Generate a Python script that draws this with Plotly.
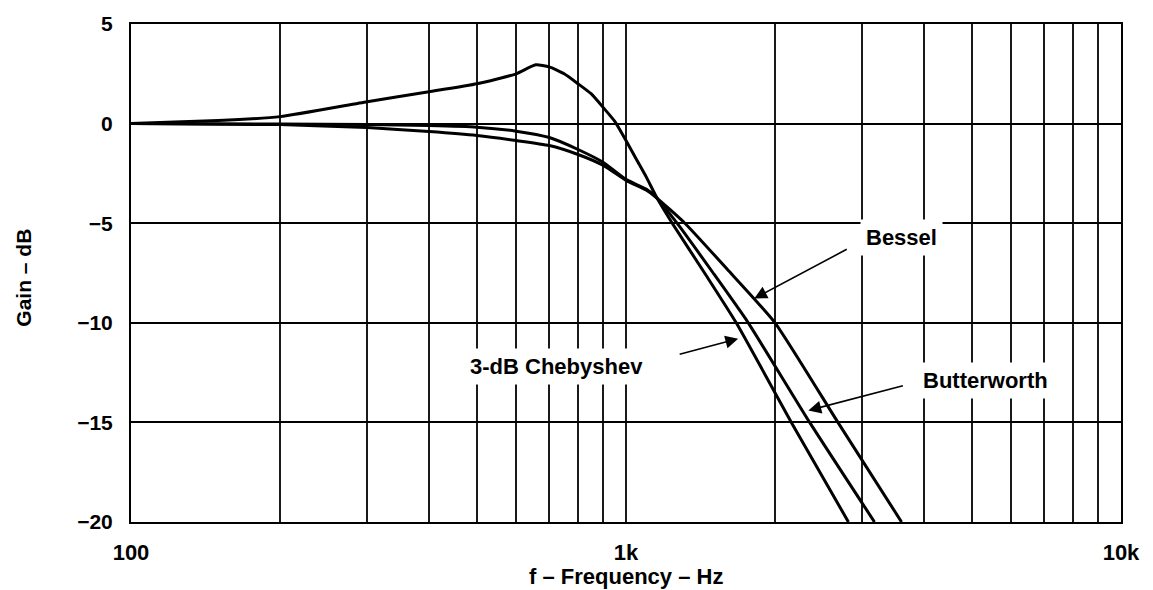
import numpy as np
import plotly.graph_objects as go

# ---- data ----
cheb_f = [100, 150, 200, 300, 400, 500, 600, 657, 700, 750, 800, 850, 900, 950, 1000,
          1050, 1100, 1150, 1240, 1450, 1670, 2158, 2814]
cheb_db = [0, 0.15, 0.35, 1.1, 1.6, 2.0, 2.5, 2.95, 2.85, 2.5, 2.0, 1.5, 0.8, 0.1, -0.85,
           -1.8, -2.7, -3.65, -5, -7.6, -10, -15, -20]

butter_f = [100, 200, 300, 400, 500, 600, 700, 800, 900, 1000, 1100, 1150, 1268, 1500,
            1766, 2350, 3177]
butter_db = [0, -0.02, -0.05, -0.1, -0.18, -0.38, -0.7, -1.3, -1.95, -2.8, -3.3, -3.7,
             -5, -7.5, -10, -15, -20]

bessel_f = [100, 200, 300, 400, 500, 600, 700, 800, 900, 1000, 1100, 1150, 1315, 1600,
            2000, 2680, 3603]
bessel_db = [0, -0.05, -0.2, -0.4, -0.6, -0.85, -1.1, -1.55, -2.1, -2.85, -3.35, -3.7,
             -5, -7.3, -10, -15, -20]

x_grid = [100, 200, 300, 400, 500, 600, 700, 800, 900,
          1000, 2000, 3000, 4000, 5000, 6000, 7000, 8000, 9000, 10000]
x_labels = ["100", "", "", "", "", "", "", "", "",
            "1k", "", "", "", "", "", "", "", "", "10k"]
y_ticks = [5, 0, -5, -10, -15, -20]
y_labels = ["5", "0", "\u22125", "\u221210", "\u221215", "\u221220"]

FONT = "Arial, Liberation Sans, sans-serif"

fig = go.Figure()
for f, db in [(cheb_f, cheb_db), (butter_f, butter_db), (bessel_f, bessel_db)]:
    fig.add_trace(go.Scatter(x=f, y=db, mode="lines",
                             line=dict(color="black", width=3, shape="spline", smoothing=0.5),
                             showlegend=False, hoverinfo="skip"))

fig.update_xaxes(type="log", range=[2, 4], tickvals=x_grid, ticktext=x_labels,
                 showgrid=True, gridcolor="#1a1a1a", gridwidth=1.5,
                 showline=True, linecolor="black", linewidth=2, mirror=True,
                 ticks="", ticklabelstandoff=10,
                 tickfont=dict(family=FONT, size=22, color="black", weight="bold"),
                 zeroline=False)
fig.update_yaxes(range=[-20, 5], tickvals=y_ticks, ticktext=y_labels,
                 showgrid=True, gridcolor="black", gridwidth=1.5,
                 showline=True, linecolor="black", linewidth=2, mirror=True,
                 ticks="", ticklabelstandoff=12,
                 tickfont=dict(family=FONT, size=21, color="black", weight="bold"),
                 zeroline=False)

lab_font = dict(family=FONT, size=22, color="black", weight="bold")
# text labels with white boxes
fig.add_annotation(x=np.log10(3603), y=-5.73, text="<b>Bessel</b>", showarrow=False,
                   bgcolor="white", borderpad=5, font=lab_font)
fig.add_annotation(x=np.log10(5330), y=-12.9, text="<b>Butterworth</b>", showarrow=False,
                   bgcolor="white", borderpad=5, font=lab_font)
fig.add_annotation(x=np.log10(725), y=-12.2, text="<b>3-dB Chebyshev</b>", showarrow=False,
                   bgcolor="white", borderpad=5, font=lab_font)
# arrows
arrow = dict(showarrow=True, arrowhead=2, arrowsize=1.6, arrowwidth=1.6,
             arrowcolor="black", text="")
fig.add_annotation(x=np.log10(1816), y=-8.78, ax=94, ay=-50, **arrow)
fig.add_annotation(x=np.log10(2336), y=-14.4, ax=96, ay=-25, **arrow)
fig.add_annotation(x=np.log10(1685), y=-10.8, ax=-60, ay=16, **arrow)

# axis titles
fig.add_annotation(xref="paper", yref="paper", x=-0.122, y=0.49, textangle=-90,
                   text="<b>Gain \u2013 dB</b>", showarrow=False,
                   font=dict(family=FONT, size=21, color="black"))
fig.add_annotation(xref="paper", yref="paper", x=0.5, y=-0.11, yanchor="middle",
                   text="<b>f \u2013 Frequency \u2013 Hz</b>", showarrow=False,
                   font=dict(family=FONT, size=22, color="black"))

fig.update_layout(width=1153, height=590, margin=dict(l=131, r=32, t=21, b=68),
                  plot_bgcolor="white", paper_bgcolor="white")
fig.write_html("out.html")
